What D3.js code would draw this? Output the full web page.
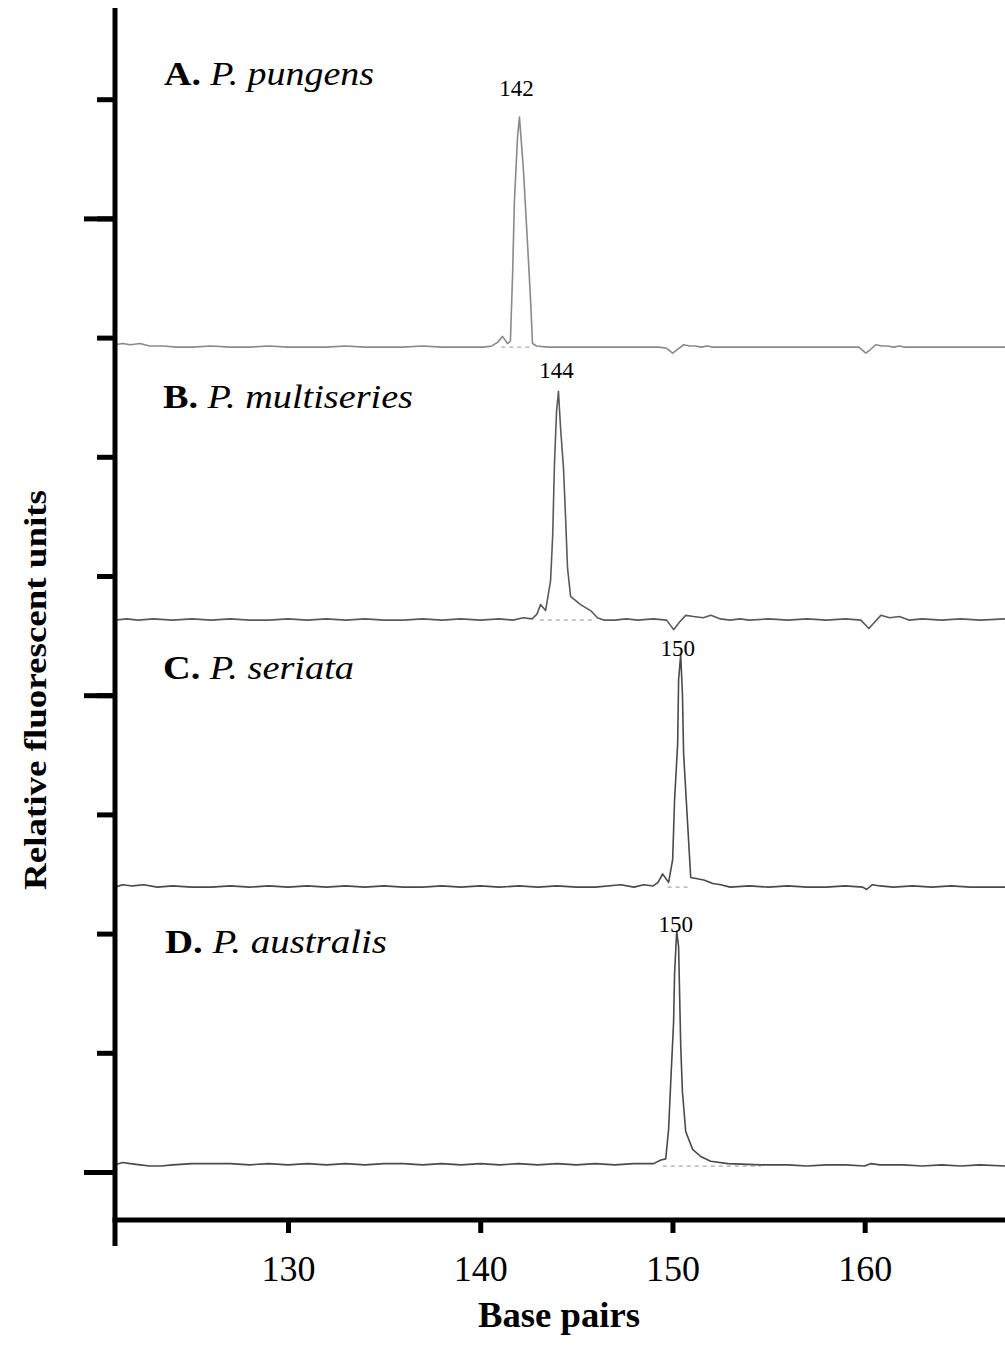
<!DOCTYPE html>
<html><head><meta charset="utf-8">
<script src="https://cdn.jsdelivr.net/npm/d3@7"></script>
<style>body{margin:0;background:#fff}svg{display:block}</style>
</head><body>
<script>
// ---- data ----
const panelLabels = ["A", "B", "C", "D"];
const speciesNames = ["P. pungens", "P. multiseries", "P. seriata", "P. australis"];
const peakLabels = ["142", "144", "150", "150"];
const peakBp = [142.04, 144.07, 150.43, 150.22];
const baselineOffsets = [6.92, 4.63, 2.39, 0.05];   // stack position of each trace (y-axis units)
const dashedSpans = [[141.1, 142.6], [143.1, 145.9], [149.75, 150.95], [149.5, 154.6]];
const xTickValues = [130, 140, 150, 160];
const yTickValues = [0, 1, 2, 3, 4, 5, 6, 7, 8, 9];
const yMajorTicks = [0, 4, 8];

// [base pairs, relative signal]
const traceA = [
  [121.0,0.02],[121.4,0.03],[121.8,0.02],[122.3,0.03],[122.8,0.01],[123.5,0.01],[124.2,0.0],[125,0.0],[126,0.01],[127,0.0],
  [128,0.0],[129,0.01],[130,0.0],[131,0.0],[132,0.0],[133,0.01],[134,0.0],[135,0.0],[136,0.0],[137,0.01],[138,0.0],[139,0.0],
  [140.17,0.0],[140.6,0.01],[140.9,0.04],[141.16,0.09],[141.42,0.03],[141.57,0.05],[141.68,0.59],[141.78,1.23],[141.94,1.76],
  [142.04,1.93],[142.15,1.70],[142.25,1.48],[142.46,0.87],[142.61,0.42],[142.72,0.03],[142.93,0.01],[143.5,0.0],[144.5,0.0],
  [145.5,0.0],[146.5,0.0],[147.5,0.0],[148.5,0.0],[149.3,0.0],[149.7,-0.01],[150.01,-0.05],[150.25,-0.02],[150.58,0.02],
  [150.9,0.01],[151.2,0.01],[151.5,0.0],[151.8,0.01],[152.1,0.0],[153,0.0],[154,0.0],[155,0.0],[156,0.0],[157,0.0],[158,0.0],
  [159,0.0],[159.7,0.0],[160.06,-0.05],[160.3,-0.02],[160.58,0.02],[160.9,0.01],[161.2,0.01],[161.5,0.0],[161.8,0.01],
  [162.1,0.0],[163,0.0],[164,0.0],[165,0.0],[166,0.0],[167.3,0.0]
];
const traceB = [
  [121.0,0.0],[121.6,0.01],[122.2,0.0],[123,0.01],[124,0.0],[125,0.01],[126,0.0],[127,0.01],[128,0.0],[129,0.0],[130,0.01],
  [131,0.0],[132,0.01],[133,0.0],[134,0.01],[135,0.0],[136,0.0],[137,0.01],[138,0.0],[139,0.01],[140,0.0],[141,0.01],
  [141.7,0.0],[142.25,0.02],[142.7,0.01],[142.95,0.05],[143.14,0.13],[143.4,0.08],[143.66,0.33],[143.77,0.71],[143.86,1.30],
  [143.97,1.75],[144.07,1.92],[144.18,1.61],[144.33,1.28],[144.44,0.86],[144.54,0.44],[144.7,0.20],[145.22,0.13],[145.74,0.08],
  [146.1,0.02],[146.42,0.0],[147,0.0],[147.6,0.01],[148.2,0.0],[149,0.01],[149.7,0.0],[150.06,-0.08],[150.35,-0.02],
  [150.69,0.04],[151.1,0.03],[151.6,0.02],[152.0,0.04],[152.5,0.01],[153,0.0],[153.5,0.01],[154,0.0],[155,0.01],[156,0.0],
  [157,0.01],[158,0.0],[159,0.01],[159.8,0.0],[160.22,-0.07],[160.5,-0.02],[160.84,0.04],[161.3,0.02],[161.8,0.03],[162.3,0.0],
  [163,0.01],[164,0.0],[165,0.01],[166,0.0],[167.3,0.01]
];
const traceC = [
  [121.0,0.0],[121.4,0.02],[121.9,0.01],[122.5,0.02],[123.2,0.0],[124,0.01],[125,0.0],[126,0.0],[127,0.01],[128,0.0],
  [129,0.01],[130,0.0],[131,0.01],[132,0.0],[133,0.01],[134,0.0],[135,0.01],[136,0.0],[137,0.0],[138,0.01],[139,0.0],
  [140,0.01],[141,0.0],[142,0.01],[143,0.0],[144,0.01],[145,0.0],[146,0.0],[147.3,0.02],[148,0.0],[148.5,0.02],[149.0,0.01],
  [149.25,0.04],[149.49,0.11],[149.8,0.04],[150.01,0.23],[150.11,0.73],[150.27,1.20],[150.32,1.74],[150.43,1.95],
  [150.52,1.62],[150.58,1.12],[150.79,0.53],[150.95,0.08],[151.3,0.07],[151.63,0.06],[152.1,0.03],[152.51,0.02],[153,0.0],
  [154,0.01],[155,0.0],[156,0.01],[157,0.0],[158,0.0],[159,0.01],[159.9,0.0],[160.1,-0.02],[160.4,0.02],[160.8,0.01],
  [161.5,0.0],[162.5,0.01],[163.5,0.0],[164.5,0.01],[165.5,0.0],[167.3,0.0]
];
const traceD = [
  [121.0,0.01],[121.4,0.03],[121.8,0.02],[122.3,0.01],[122.8,0.0],[123.4,0.0],[124.0,0.01],[125,0.02],[126,0.02],[127,0.02],
  [128,0.01],[129,0.02],[130,0.01],[131,0.02],[132,0.01],[133,0.02],[134,0.01],[135,0.02],[136,0.02],[137,0.01],[138,0.02],
  [139,0.01],[140,0.02],[141,0.01],[142,0.02],[143,0.01],[144,0.02],[145,0.01],[146,0.02],[147,0.01],[148,0.02],[149.02,0.02],
  [149.4,0.05],[149.65,0.06],[149.8,0.31],[149.91,0.70],[150.06,1.21],[150.11,1.61],[150.22,1.97],[150.32,1.84],[150.43,1.01],
  [150.52,0.62],[150.69,0.29],[151.05,0.14],[151.47,0.08],[151.99,0.04],[152.88,0.02],[154.6,0.01],[156,0.01],[157,0.0],
  [158,0.01],[159,0.01],[160,0.0],[160.3,0.02],[160.8,0.01],[162,0.01],[163,0.0],[164,0.01],[165,0.0],[166,0.01],[167.3,0.0]
];
const traces = [traceA, traceB, traceC, traceD];
const traceColors = ["#8a8a8a", "#5a5a5a", "#4a4a4a", "#4a4a4a"];

// ---- drawing ----
const W = 1005, H = 1355;
const svg = d3.select("body").append("svg").attr("width", W).attr("height", H);

const x = d3.scaleLinear().domain([121, 167.3]).range([115, 1005]);
const y = d3.scaleLinear().domain([0, 9]).range([1172, 99.2]);

const serif = "'Liberation Serif', 'Times New Roman', serif";

// traces
traces.forEach((tr, i) => {
  const off = baselineOffsets[i];
  svg.append("line")
    .attr("x1", x(dashedSpans[i][0])).attr("x2", x(dashedSpans[i][1]))
    .attr("y1", y(off)).attr("y2", y(off))
    .attr("stroke", "#aaa").attr("stroke-width", 1.2).attr("stroke-dasharray", "4,4");
  svg.append("path")
    .attr("d", d3.line().x(d => x(d[0])).y(d => y(off + d[1]))(tr))
    .attr("fill", "none").attr("stroke", traceColors[i]).attr("stroke-width", 1.6)
    .attr("stroke-linejoin", "round");
});

// y axis ticks
const gy = svg.append("g").attr("transform", "translate(115,0)");
gy.call(d3.axisLeft(y).tickValues(yTickValues).tickSize(18).tickFormat(""));
gy.append("g").call(d3.axisLeft(y).tickValues(yMajorTicks).tickSize(31).tickFormat(""));
gy.selectAll(".domain").remove();
gy.selectAll(".tick line").attr("stroke", "#000").attr("stroke-width", 5);

// x axis
const gx = svg.append("g").attr("transform", "translate(0,1220)");
gx.call(d3.axisBottom(x).tickValues(xTickValues).tickSize(13).tickPadding(22));
gx.select(".domain").remove();
gx.selectAll(".tick line").attr("stroke", "#000").attr("stroke-width", 5);
gx.selectAll(".tick text").attr("font-family", serif).attr("font-size", 36).attr("fill", "#000");

// axis lines
svg.append("line").attr("x1", 115).attr("x2", 115).attr("y1", 8).attr("y2", 1246)
  .attr("stroke", "#000").attr("stroke-width", 5);
svg.append("line").attr("x1", 112.5).attr("x2", 1005).attr("y1", 1220).attr("y2", 1220)
  .attr("stroke", "#000").attr("stroke-width", 5);

// panel labels
const labelPos = [[164, 85], [163, 408], [163, 679], [165, 953]];
const labelWidths = [210, 250, 191, 222];
panelLabels.forEach((p, i) => {
  const t = svg.append("text").attr("x", labelPos[i][0]).attr("y", labelPos[i][1])
    .attr("font-family", serif).attr("font-size", 33).attr("fill", "#000")
    .attr("textLength", labelWidths[i]).attr("lengthAdjust", "spacingAndGlyphs");
  t.append("tspan").attr("font-weight", "bold").text(p + ".");
  t.append("tspan").attr("font-style", "italic").text(" " + speciesNames[i]);
});

// peak labels
const peakLabelY = [96, 378, 656, 932];
const peakLabelDx = [-3, -2, -3, -1];
peakLabels.forEach((lab, i) => {
  svg.append("text").attr("x", x(peakBp[i]) + peakLabelDx[i]).attr("y", peakLabelY[i])
    .attr("text-anchor", "middle").attr("font-family", serif).attr("font-size", 23)
    .attr("fill", "#000").text(lab);
});

// axis titles
svg.append("text").attr("transform", "translate(46,690) rotate(-90)")
  .attr("text-anchor", "middle").attr("font-family", serif).attr("font-weight", "bold")
  .attr("font-size", 32).attr("fill", "#000")
  .attr("textLength", 400).attr("lengthAdjust", "spacingAndGlyphs")
  .text("Relative fluorescent units");
svg.append("text").attr("x", 559).attr("y", 1327)
  .attr("text-anchor", "middle").attr("font-family", serif).attr("font-weight", "bold")
  .attr("font-size", 36).attr("fill", "#000")
  .attr("textLength", 162).attr("lengthAdjust", "spacingAndGlyphs")
  .text("Base pairs");
</script>
</body></html>
